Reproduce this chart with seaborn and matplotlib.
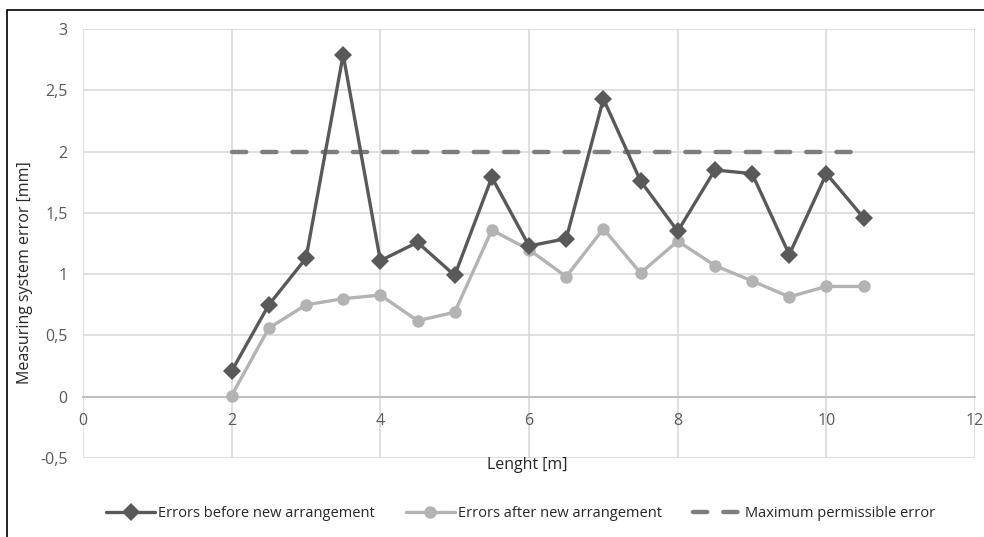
## IMPORTING LIBRARIES AND SETTING PARAMETERS
import seaborn as sns
import pandas as pd
from matplotlib import pyplot as plt
from matplotlib.ticker import FuncFormatter, MultipleLocator
from matplotlib.patches import Rectangle

sns.set_style('white')
plt.rcParams['font.family'] = ['Open Sans', 'DejaVu Sans']

## data
length = [2, 2.5, 3, 3.5, 4, 4.5, 5, 5.5, 6, 6.5, 7, 7.5, 8, 8.5, 9, 9.5, 10, 10.5]
errors_before = [0.21, 0.75, 1.13, 2.79, 1.11, 1.26, 0.99, 1.79, 1.23, 1.29,
                 2.43, 1.76, 1.35, 1.85, 1.82, 1.16, 1.82, 1.46]
errors_after = [0.01, 0.56, 0.75, 0.80, 0.83, 0.62, 0.69, 1.36, 1.20, 0.98,
                1.37, 1.01, 1.27, 1.07, 0.945, 0.815, 0.90, 0.90]
max_error = [2.0] * len(length)

labels = ['Errors before new arrangement', 'Errors after new arrangement',
          'Maximum permissible error']

df = pd.DataFrame({'length': length, 'before': errors_before,
                   'after': errors_after, 'max': max_error})

text_c = '#595959'
fig = plt.figure(figsize=(9.84, 5.37), dpi=100)
ax = fig.add_axes([0.0843, 0.147, 0.9067, 0.799])

sns.lineplot(data=df, x='length', y='before', ax=ax, color='#595959', lw=2.4,
             marker='D', markersize=9.5, markeredgewidth=0, label=labels[0], zorder=4)
sns.lineplot(data=df, x='length', y='after', ax=ax, color='#b3b3b3', lw=2.4,
             marker='o', markersize=9, markeredgewidth=0, label=labels[1], zorder=3)
sns.lineplot(data=df, x='length', y='max', ax=ax, color='#7f7f7f', lw=3.2,
             dash_capstyle='round', label=labels[2], zorder=2)
ax.lines[-1].set_dashes((3.2, 3.6))

ax.set_xlim(0, 12)
ax.set_ylim(-0.5, 3)
ax.xaxis.set_major_locator(MultipleLocator(2))
ax.yaxis.set_major_locator(MultipleLocator(0.5))
fmt = FuncFormatter(lambda v, p: f'{v:g}'.replace('.', ','))
ax.xaxis.set_major_formatter(fmt)
ax.yaxis.set_major_formatter(fmt)
ax.grid(True, color='#d9d9d9', lw=1.2)
ax.set_axisbelow(True)
for s in ['top', 'right', 'left']:
    ax.spines[s].set_visible(False)
ax.spines['bottom'].set_position(('data', 0))
ax.spines['bottom'].set_color('#bfbfbf')
ax.spines['bottom'].set_linewidth(1.5)
ax.tick_params(axis='both', length=0, labelsize=11.5, labelcolor=text_c)
ax.tick_params(axis='x', pad=12)
ax.tick_params(axis='y', pad=11)

ax.set_xlabel('')
ax.set_ylabel('')
fig.text(25 / 984, 1 - 273 / 537, 'Measuring system error [mm]', rotation=90,
         ha='center', va='center', fontsize=11.5)
fig.text(527 / 984, 1 - 465 / 537, 'Lenght [m]', ha='center', va='center',
         fontsize=11.5)

ax.get_legend().remove()
h, l = ax.get_legend_handles_labels()
fig.legend(h, l, loc='center', bbox_to_anchor=(0.529, 0.044), ncol=3, frameon=False,
           fontsize=10.5, handlelength=3.4, columnspacing=2.1, handletextpad=0.2)

## outer chart border (partially visible)
fig.patches.append(Rectangle((7 / 984, -0.1), 1.2, 1.1 - 10 / 537,
                             transform=fig.transFigure, fill=False,
                             edgecolor='black', lw=1.2))

plt.savefig('out.png', dpi=100)
